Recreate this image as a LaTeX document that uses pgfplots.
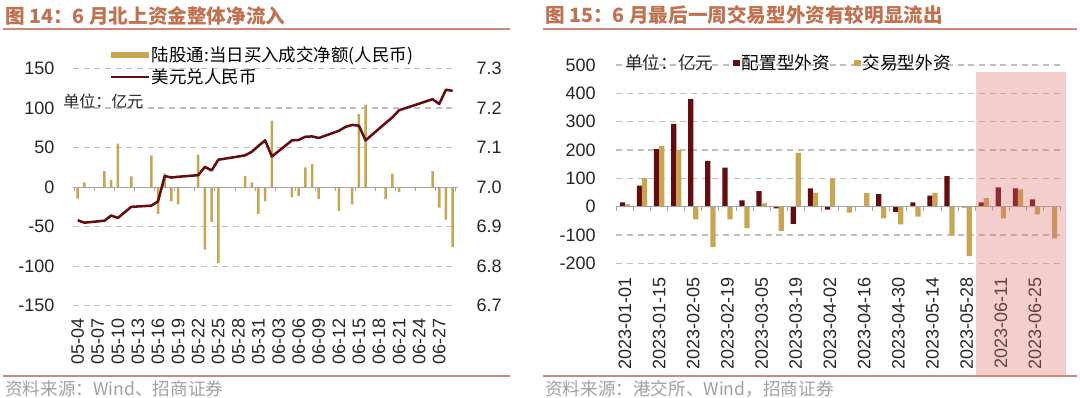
\documentclass[border=0pt]{standalone}
\usepackage{fontspec}
\setmainfont{Liberation Sans}
\newfontfamily\cjk{Noto Sans CJK SC}
\usepackage{pgfplots}
\usepackage{pgfplotstable}
\pgfplotsset{compat=1.18}
\definecolor{gold}{RGB}{200,165,82}
\definecolor{dred}{RGB}{100,12,14}
\definecolor{titlec}{RGB}{192,113,80}
\definecolor{sepc}{RGB}{204,138,118}
\definecolor{gridc}{RGB}{190,190,190}
\definecolor{zeroc}{RGB}{165,165,165}
\definecolor{srcc}{RGB}{160,160,160}
\definecolor{pinkc}{RGB}{224,112,112}

\pgfplotstableread{
d v
0 -14.5
1 6
4 20
5 9
6 55
8 13.5
11 40
12 -34
13 17
14 -18
15 -22
18 41
19 -79
20 -44
21 -96
25 14
26 6
27 -34
28 -18
29 84
32 -13
33 -11
34 25
35 29
36 -15
39 -30
41 -22
42 92
43 104
46 -15
47 17
48 -6
53 20
54 -26
55 -41
56 -76
}\leftbars

\pgfplotstableread{
d v
0 6.916
1 6.910
4 6.915
5 6.928
6 6.922
8 6.950
11 6.953
12 6.964
13 7.028
14 7.024
15 7.026
18 7.030
19 7.051
20 7.042
21 7.069
25 7.080
26 7.089
27 7.104
28 7.118
29 7.077
32 7.118
33 7.119
34 7.127
35 7.128
36 7.124
39 7.142
40 7.152
41 7.157
42 7.155
43 7.118
46 7.162
47 7.176
48 7.194
53 7.222
54 7.210
55 7.246
56 7.243
}\usdcny

\pgfplotstableread{
i r g
0 15.5 8
1 74 102
2 203 214
3 292 200
4 380 -45
5 162 -143
6 138 -45
7 22 -76
8 55 12
9 -6 -85
10 -61 190
11 65 49
12 -10 100
13 2 -21
14 -1 49
15 44 -41
16 -18 -62
17 15.5 -35
18 39 49
19 108 -102
20 -2 -174
21 15 30
22 68 -41
23 65 61
24 26 -27
25 0 -112
}\weekly

\pgfplotsset{
  basestyle/.style={
    scale only axis,
    axis line style={draw=none},
    tick style={draw=none},
    /pgf/number format/assume math mode=true,
    tick label style={font=\fontsize{13.5}{15}\selectfont, text=black!85},
  },
}

\begin{document}
\begin{tikzpicture}
\useasboundingbox (0,0) rectangle (810pt,298.5pt);
\fill[white] (0,0) rectangle (810pt,298.5pt);

% dashed horizontal grid lines (drawn as short segments)
\foreach \yy in {69.15,98.83,128.52,187.88,217.57,247.25}{
  \foreach \xx in {54.75,62.75,...,340}{
    \fill[gridc] (\xx pt,\yy pt-0.5pt) rectangle ++(4.5pt,1pt);
  }
}
\foreach \yy in {100.95,122.21,164.72,185.98,207.24,228.49,249.75}{
  \foreach \xx in {462.3,470.3,...,792}{
    \fill[gridc] (\xx pt,\yy pt-0.5pt) rectangle ++(4.5pt,1pt);
  }
}

% titles and separators
\node[anchor=west, inner sep=0pt, text=titlec, font=\cjk\bfseries\fontsize{14.7}{16}\selectfont] at (3.75pt,286.9pt) {图 14：6 月北上资金整体净流入};
\node[anchor=west, inner sep=0pt, text=titlec, font=\cjk\bfseries\fontsize{14.7}{16}\selectfont] at (408.75pt,286.9pt) {图 15：6 月最后一周交易型外资有较明显流出};
\draw[sepc, line width=1.5pt] (2.25pt,276.4pt) -- (382.5pt,276.4pt);
\draw[sepc, line width=1.5pt] (407.25pt,276.4pt) -- (807.75pt,276.4pt);
\draw[sepc, line width=1.5pt] (2.25pt,16.6pt) -- (382.5pt,16.6pt);
\draw[sepc, line width=1.5pt] (407.25pt,16.6pt) -- (807.75pt,16.6pt);
\node[anchor=west, inner sep=0pt, text=srcc, font=\cjk\fontsize{13.2}{15}\selectfont] at (3.75pt,6.9pt) {资料来源：Wind、招商证券};
\node[anchor=west, inner sep=0pt, text=srcc, font=\cjk\fontsize{13.2}{15}\selectfont] at (408.75pt,6.9pt) {资料来源：港交所、Wind，招商证券};

% ---------------- left chart: bars ----------------
\begin{axis}[basestyle,
  at={(54.75pt,69.15pt)}, anchor=south west,
  width=288.75pt, height=178.1pt,
  xmin=-0.7, xmax=56.8, ymin=-150, ymax=150,
  ytick={-150,-100,...,150},
  yticklabel shift=10.5pt,
  xtick={0,3,...,54},
  xticklabels={05-04,05-07,05-10,05-13,05-16,05-19,05-22,05-25,05-28,05-31,06-03,06-06,06-09,06-12,06-15,06-18,06-21,06-24,06-27},
  xticklabel style={rotate=90, anchor=east},
  xticklabel shift=6.2pt,
  clip=false,
  legend style={at={(0.0947,1.10)}, anchor=north west, draw=none, fill=none,
    inner sep=0pt, row sep=1.5pt, font=\cjk\fontsize{13.1}{15}\selectfont,
    nodes={inner sep=1.2pt}},
  legend cell align=left,
]
\addplot[ybar, bar width=1.9pt, fill=gold, draw=none,
  legend image code/.code={\fill[gold] (0pt,-2.3pt) rectangle (28.5pt,2.3pt);}]
  table[x=d, y=v] {\leftbars};
\addlegendentry{陆股通:当日买入成交净额(人民币)}
\addlegendimage{legend image code/.code={\draw[dred, line width=1.9pt] (0pt,0pt) -- (28.5pt,0pt);}}
\addlegendentry{美元兑人民币}
\draw[zeroc, line width=0.75pt] (axis cs:-0.7,0) -- (axis cs:56.8,0);
\pgfplotsinvokeforeach{-0.5,2.5,5.5,8.5,11.5,14.5,17.5,20.5,23.5,26.5,29.5,32.5,35.5,38.5,41.5,44.5,47.5,50.5,53.5,56.5}{\draw[zeroc, line width=0.75pt] (axis cs:#1,0) -- ([yshift=-3pt]axis cs:#1,0);}
\end{axis}

% ---------------- left chart: line ----------------
\begin{axis}[basestyle,
  at={(54.75pt,69.15pt)}, anchor=south west,
  width=288.75pt, height=178.1pt,
  xmin=-0.7, xmax=56.8, ymin=6.7, ymax=7.3,
  axis x line=none,
  axis y line*=right,
  ytick={6.7,6.8,...,7.3},
  yticklabel style={/pgf/number format/.cd, fixed, fixed zerofill, precision=1},
  yticklabel shift=10.5pt,
]
\addplot[dred, line width=1.9pt, line join=round, no marks] table[x=d, y=v] {\usdcny};
\end{axis}

\node[anchor=west, inner sep=0pt, font=\cjk\fontsize{12}{14}\selectfont, text=black!85] at (47.25pt,222.75pt) {单位：亿元};

% ---------------- right chart ----------------
\begin{axis}[basestyle,
  at={(462.3pt,100.95pt)}, anchor=south west,
  width=333.15pt, height=148.8pt,
  xmin=-0.5, xmax=25.5, ymin=-200, ymax=500,
  ytick={-200,-100,...,500},
  yticklabel shift=12pt,
  xtick={0,2,...,24},
  xticklabels={2023-01-01,2023-01-15,2023-02-05,2023-02-19,2023-03-05,2023-03-19,2023-04-02,2023-04-16,2023-04-30,2023-05-14,2023-05-28,2023-06-11,2023-06-25},
  xticklabel style={rotate=90, anchor=east},
  xticklabel shift=7.2pt,
  clip=false,
  legend columns=2,
  legend style={at={(0.2625,1.0101)}, anchor=west, draw=none, fill=none,
    inner sep=0pt, font=\cjk\fontsize{13.2}{15}\selectfont,
    nodes={inner sep=1.2pt},
    /tikz/every even column/.append style={column sep=17pt}},
]
\addplot[ybar, bar width=3.9pt, bar shift=-1.9pt, fill=dred, draw=none,
  legend image code/.code={\fill[dred] (0pt,-2.6pt) rectangle (5.25pt,2.6pt);}]
  table[x=i, y=r] {\weekly};
\addlegendentry{配置型外资}
\addplot[ybar, bar width=3.9pt, bar shift=1.9pt, fill=gold, draw=none,
  legend image code/.code={\fill[gold] (0pt,-2.6pt) rectangle (5.25pt,2.6pt);}]
  table[x=i, y=g] {\weekly};
\addlegendentry{交易型外资}
\draw[zeroc, line width=0.75pt] (axis cs:-0.5,0) -- (axis cs:25.5,0);
\pgfplotsinvokeforeach{-0.5,0.5,1.5,2.5,3.5,4.5,5.5,6.5,7.5,8.5,9.5,10.5,11.5,12.5,13.5,14.5,15.5,16.5,17.5,18.5,19.5,20.5,21.5,22.5,23.5,24.5,25.5}{\draw[zeroc, line width=0.75pt] (axis cs:#1,0) -- ([yshift=-3pt]axis cs:#1,0);}
\fill[pinkc, opacity=0.35] (axis cs:20.55,475) rectangle (axis cs:25.82,-594);
\end{axis}

\node[anchor=west, inner sep=0pt, font=\cjk\fontsize{13.2}{15}\selectfont, text=black!85] at (468.75pt,251.25pt) {单位：亿元};

\end{tikzpicture}
\end{document}
